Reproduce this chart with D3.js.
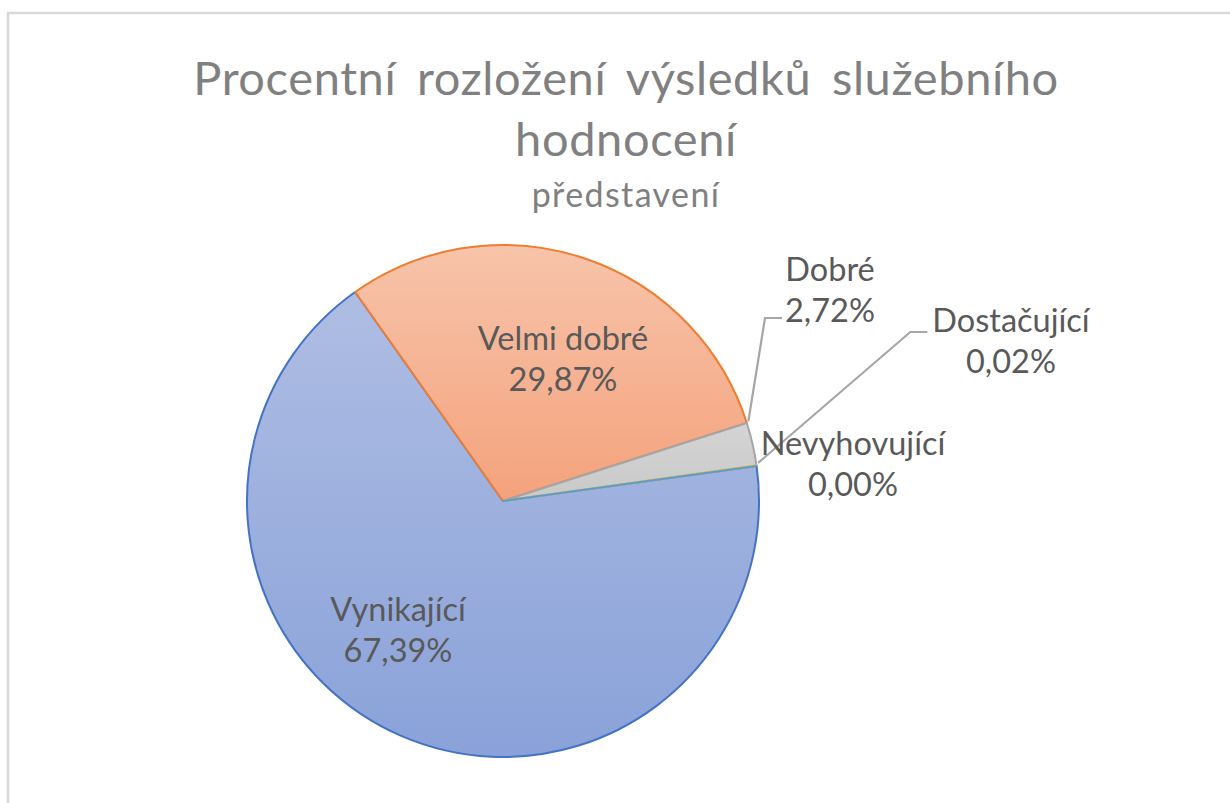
<!DOCTYPE html>
<html><head><meta charset="utf-8">
<script src="https://cdn.jsdelivr.net/npm/d3@7"></script>
<style>
html,body{margin:0;padding:0;background:#fff;}
svg{display:block;}
text{font-family:Lato,"Open Sans",sans-serif;}
</style></head>
<body>
<svg id="c" width="1230" height="803"></svg>
<script>
const categories = ["Vynikající","Velmi dobré","Dobré","Dostačující","Nevyhovující"];
const values = [67.39, 29.87, 2.72, 0.02, 0.00];
const valueLabels = ["67,39%","29,87%","2,72%","0,02%","0,00%"];
const titleLines = ["Procentní rozložení výsledků služebního","hodnocení"];
const subtitle = "představení";

const fillTop = ["#aebde3","#f7c4aa","#d4d4d4","#ffe08a","#a9c9ea"];
const fillBot = ["#8aa2d9","#f4a27c","#c9c9c9","#ffc000","#5b9bd5"];
const strokes = ["#4472c4","#ed7d31","#a5a5a5","#ffc000","#5b9bd5"];
// label layout (center x, first baseline) and whether a leader line is drawn
const labelPos = [[398,621],[563,350],[830,281],[1011,332],[853,455]];
const leader = [false,false,true,true,false];

const svg = d3.select("#c");
svg.append("rect").attr("x",8).attr("y",13).attr("width",1240).attr("height",820)
  .attr("fill","#fff").attr("stroke","#d9d9d9").attr("stroke-width",2.5);

const cx = 503, cy = 501, R = 256;
const fs = 32.5, lineH = 41;
const defs = svg.append("defs");
categories.forEach((c,i)=>{
  const g = defs.append("linearGradient").attr("id","g"+i).attr("x1",0).attr("y1",0).attr("x2",0).attr("y2",1);
  g.append("stop").attr("offset","0%").attr("stop-color",fillTop[i]);
  g.append("stop").attr("offset","100%").attr("stop-color",fillBot[i]);
});

const pie = d3.pie().sort(null).value(d=>d)
  .startAngle(82.12*Math.PI/180).endAngle(82.12*Math.PI/180 + 2*Math.PI);
const arcs = pie(values);
const arc = d3.arc().innerRadius(0).outerRadius(R);
const gp = svg.append("g").attr("transform",`translate(${cx},${cy})`);
gp.selectAll("path").data(arcs).join("path")
  .attr("d",arc)
  .attr("fill",(d,i)=>`url(#g${i})`)
  .attr("stroke",(d,i)=>strokes[i])
  .attr("stroke-width",2)
  .attr("stroke-linejoin","round");

function textW(s){
  const n = svg.append("text").attr("font-size",fs).text(s);
  const w = n.node().getComputedTextLength(); n.remove(); return w;
}
// leader lines
arcs.forEach((d,i)=>{
  if(!leader[i]) return;
  const mid = (d.startAngle+d.endAngle)/2 - (i===2?0.09:0.01);
  const r0 = R+2;
  const sx = cx + r0*Math.sin(mid), sy = cy - r0*Math.cos(mid);
  const lp = labelPos[i];
  const w1 = textW(categories[i]), w2 = textW(valueLabels[i]);
  const ey = i===2 ? lp[1]+lineH-4 : lp[1];
  const ex = i===2 ? lp[0]-w2/2 - 3 : lp[0]-w1/2 - 5;
  svg.append("polyline")
    .attr("points",`${sx},${sy} ${ex-17},${ey} ${ex},${ey}`)
    .attr("fill","none").attr("stroke","#a6a6a6").attr("stroke-width",2.2);
});

// labels
categories.forEach((c,i)=>{
  const t = svg.append("text").attr("text-anchor","middle").attr("fill","#595959").attr("font-size",fs);
  t.append("tspan").attr("x",labelPos[i][0]).attr("y",labelPos[i][1]).text(c);
  t.append("tspan").attr("x",labelPos[i][0]).attr("y",labelPos[i][1]+lineH).text(valueLabels[i]);
});

// title
svg.append("text").attr("text-anchor","middle").attr("fill","#808080").attr("font-size",47)
  .attr("word-spacing",8).attr("letter-spacing",0.6)
  .attr("x",626).attr("y",95).text(titleLines[0]);
svg.append("text").attr("text-anchor","middle").attr("fill","#808080").attr("font-size",47)
  .attr("letter-spacing",0.6)
  .attr("x",626).attr("y",156).text(titleLines[1]);
svg.append("text").attr("text-anchor","middle").attr("fill","#808080").attr("font-size",34)
  .attr("letter-spacing",1.4)
  .attr("x",626).attr("y",207).text(subtitle);
</script>
</body></html>
